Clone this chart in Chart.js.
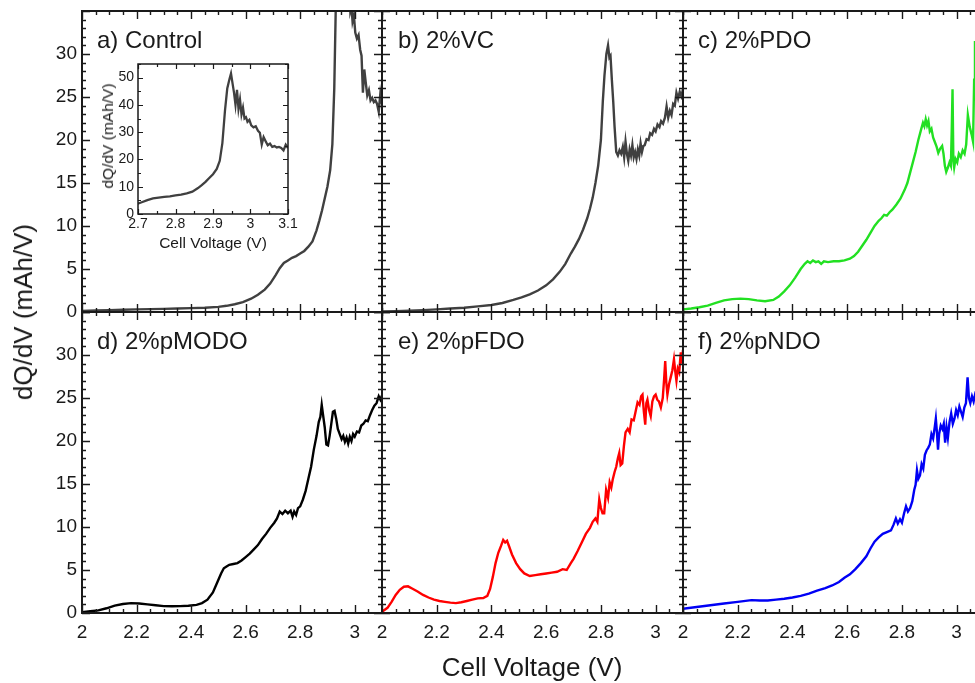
<!DOCTYPE html>
<html>
<head>
<meta charset="utf-8">
<script src="https://cdn.jsdelivr.net/npm/chart.js@4.4.1/dist/chart.umd.min.js"></script>
<style>
  html, body { margin: 0; padding: 0; background: #fff; width: 975px; height: 683px; overflow: hidden; }
  #wrap { position: relative; width: 975px; height: 683px; overflow: hidden; }
  #wrap canvas { position: absolute; left: 0; top: 0; }
  .lbl { position: absolute; white-space: nowrap; font-family: "Liberation Sans", Arial, sans-serif; color: #1a1a1a; }
  .panel { font-size: 24px; line-height: 24px; }
  .axis { font-size: 26px; line-height: 26px; }
  .inax { font-size: 15.5px; line-height: 16px; }
  .rot { transform: translate(-50%, -50%) rotate(-90deg); }
</style>
</head>
<body>
<div id="wrap">
  <canvas id="cA" width="1010" height="683"></canvas>
  <canvas id="cB" width="1010" height="683"></canvas>
  <canvas id="cC" width="1010" height="683"></canvas>
  <canvas id="cD" width="1010" height="683"></canvas>
  <canvas id="cE" width="1010" height="683"></canvas>
  <canvas id="cF" width="1010" height="683"></canvas>
  <canvas id="cInset" width="1010" height="683"></canvas>

  <div class="lbl panel" style="left:97px;top:28px">a) Control</div>
  <div class="lbl panel" style="left:398px;top:28px">b) 2%VC</div>
  <div class="lbl panel" style="left:698px;top:28px">c) 2%PDO</div>
  <div class="lbl panel" style="left:97px;top:329px">d) 2%pMODO</div>
  <div class="lbl panel" style="left:398px;top:329px">e) 2%pFDO</div>
  <div class="lbl panel" style="left:698px;top:329px">f) 2%pNDO</div>

  <div class="lbl axis" style="left:532px;top:654px;transform:translateX(-50%)">Cell Voltage (V)</div>
  <div class="lbl axis rot" style="left:23px;top:312px">dQ/dV (mAh/V)</div>

  <div class="lbl inax" style="left:213px;top:235px;transform:translateX(-50%)">Cell Voltage (V)</div>
  <div class="lbl inax rot" style="left:108px;top:136px">dQ/dV (mAh/V)</div>
</div>

<script>
// ---- tick labels ----
const voltTicks = [2, 2.2, 2.4, 2.6, 2.8, 3];
const dqdvTicks = [0, 5, 10, 15, 20, 25, 30];
const insetVoltTicks = [2.7, 2.8, 2.9, 3, 3.1];
const insetDqdvTicks = [0, 10, 20, 30, 40, 50];

// ---- a) Control ----
const controlV = [2.00, 2.05, 2.10, 2.15, 2.20, 2.25, 2.30, 2.35, 2.40, 2.45, 2.50, 2.53, 2.56, 2.59, 2.62, 2.645, 2.67, 2.69, 2.71, 2.725, 2.74, 2.755, 2.77, 2.785, 2.80, 2.815, 2.83, 2.845, 2.86, 2.87, 2.88, 2.89, 2.90, 2.91, 2.918, 2.925, 2.932, 2.938, 2.944, 2.948, 2.952, 2.956, 2.96, 2.964, 2.968, 2.972, 2.976, 2.98, 2.984, 2.988, 2.992, 2.997, 3.002, 3.008, 3.014, 3.02, 3.025, 3.03, 3.035, 3.04, 3.046, 3.052, 3.058, 3.064, 3.07, 3.076, 3.082, 3.088, 3.094, 3.1];
const controlQ = [0.12, 0.18, 0.22, 0.26, 0.3, 0.33, 0.36, 0.4, 0.45, 0.5, 0.6, 0.72, 0.9, 1.15, 1.55, 2.0, 2.6, 3.3, 4.3, 5.1, 5.7, 6.0, 6.3, 6.5, 6.8, 7.1, 7.6, 8.2, 9.5, 10.6, 11.8, 13.2, 14.6, 16.5, 19.5, 26, 38, 46, 49.5, 51.5, 48, 44.5, 40, 45.5, 38.5, 42, 36.5, 39, 35, 35.5, 33.8, 34.5, 32.5, 31.8, 32.2, 30.5, 29.8, 25.5, 28.2, 26.8, 25.2, 25.8, 24.6, 24.9, 24.4, 24.6, 24.2, 23.3, 25.4, 24.2];

// ---- b) 2%VC ----
const vcV = [2.00, 2.05, 2.10, 2.15, 2.20, 2.25, 2.30, 2.35, 2.40, 2.44, 2.48, 2.51, 2.54, 2.57, 2.60, 2.625, 2.65, 2.67, 2.69, 2.705, 2.72, 2.735, 2.75, 2.76, 2.77, 2.78, 2.79, 2.80, 2.807, 2.813, 2.82, 2.826, 2.831, 2.835, 2.84, 2.845, 2.85, 2.856, 2.862, 2.868, 2.874, 2.88, 2.885, 2.89, 2.895, 2.9, 2.905, 2.91, 2.915, 2.92, 2.925, 2.93, 2.935, 2.94, 2.945, 2.95, 2.955, 2.96, 2.967, 2.974, 2.98, 2.987, 2.994, 3.0, 3.007, 3.014, 3.02, 3.027, 3.034, 3.04, 3.046, 3.052, 3.058, 3.064, 3.07, 3.076, 3.082, 3.088, 3.094, 3.1];
const vcQ = [0.05, 0.1, 0.15, 0.22, 0.3, 0.4, 0.5, 0.65, 0.82, 1.05, 1.4, 1.7, 2.05, 2.5, 3.1, 3.8, 4.7, 5.6, 6.8, 7.6, 8.5, 9.6, 10.9, 12.0, 13.3, 15.0, 17.0, 20.0, 24.5, 27.5, 30.0, 31.0, 29.6, 29.8, 27.0, 24.5, 21.5, 18.6, 18.2, 18.8, 18.4, 19.2, 18.0, 19.8, 18.4, 17.6, 18.9, 18.2, 19.4, 18.0, 18.6, 17.8, 18.9, 18.2, 19.6, 18.6, 19.3, 19.4, 20.1, 20.0, 20.8, 20.6, 21.3, 21.0, 21.8, 21.5, 22.2, 21.9, 22.6, 23.9, 22.6, 23.4, 22.9, 24.2, 24.0, 25.5, 24.8, 25.6, 25.1, 25.9];

// ---- c) 2%PDO ----
const pdoV = [2.00, 2.03, 2.06, 2.09, 2.12, 2.15, 2.18, 2.21, 2.24, 2.27, 2.30, 2.33, 2.35, 2.37, 2.39, 2.41, 2.43, 2.445, 2.455, 2.465, 2.475, 2.485, 2.495, 2.505, 2.515, 2.53, 2.55, 2.57, 2.59, 2.61, 2.625, 2.64, 2.655, 2.67, 2.685, 2.70, 2.715, 2.725, 2.735, 2.745, 2.755, 2.765, 2.78, 2.795, 2.81, 2.82, 2.83, 2.84, 2.85, 2.86, 2.87, 2.877, 2.882, 2.887, 2.892, 2.897, 2.902, 2.908, 2.914, 2.92, 2.927, 2.933, 2.94, 2.947, 2.952, 2.957, 2.962, 2.968, 2.974, 2.979, 2.982, 2.985, 2.988, 2.991, 2.996, 3.002, 3.008, 3.015, 3.022, 3.029, 3.035, 3.041, 3.048, 3.055, 3.06, 3.064, 3.067, 3.072, 3.08, 3.09, 3.1];
const pdoQ = [0.3, 0.4, 0.55, 0.75, 1.05, 1.35, 1.5, 1.55, 1.5, 1.35, 1.25, 1.4, 1.8, 2.4, 3.1, 4.0, 5.0, 5.6, 5.9, 5.7, 6.0, 5.8, 5.9, 5.6, 5.9, 5.8, 5.9, 5.9, 6.0, 6.2, 6.5, 7.0, 7.7, 8.4, 9.2, 10.0, 10.6, 10.9, 11.3, 11.2, 11.6, 11.9, 12.5, 13.2, 14.2, 15.0, 16.2, 17.4, 18.6, 20.0, 21.2, 22.0, 21.6, 22.4, 21.7, 22.2, 21.0, 21.3, 20.3, 19.8, 19.2, 18.5, 19.0, 19.3, 18.4, 17.0, 16.3, 16.8, 17.4, 17.0, 21.0, 25.9, 17.6, 16.8, 17.8, 17.4, 18.4, 18.0, 18.8, 18.4, 19.5, 22.9, 21.5, 20.6, 19.8, 27.0, 31.5, 26.0, 24.0, 24.6, 25.5];

// ---- d) 2%pMODO ----
const pmodoV = [2.00, 2.03, 2.06, 2.09, 2.12, 2.15, 2.18, 2.21, 2.24, 2.27, 2.30, 2.33, 2.36, 2.39, 2.42, 2.44, 2.46, 2.48, 2.495, 2.51, 2.52, 2.53, 2.54, 2.555, 2.57, 2.585, 2.60, 2.615, 2.63, 2.645, 2.66, 2.675, 2.69, 2.705, 2.715, 2.725, 2.735, 2.745, 2.755, 2.765, 2.772, 2.778, 2.785, 2.792, 2.80, 2.81, 2.82, 2.83, 2.84, 2.85, 2.86, 2.868, 2.874, 2.879, 2.884, 2.89, 2.896, 2.902, 2.908, 2.914, 2.92, 2.926, 2.932, 2.938, 2.945, 2.952, 2.958, 2.964, 2.97, 2.976, 2.982, 2.988, 2.994, 3.0, 3.008, 3.016, 3.024, 3.032, 3.04, 3.048, 3.056, 3.064, 3.072, 3.08, 3.088, 3.094, 3.1];
const pmodoQ = [0.1, 0.2, 0.3, 0.55, 0.85, 1.05, 1.15, 1.1, 1.0, 0.9, 0.8, 0.78, 0.8, 0.85, 0.95, 1.15, 1.55, 2.4, 3.5, 4.6, 5.2, 5.4, 5.6, 5.7, 5.8, 6.1, 6.5, 6.9, 7.4, 7.9, 8.6, 9.2, 9.9, 10.5, 11.0, 11.8, 11.5, 11.9, 11.6, 11.9, 11.2, 11.8, 11.4, 12.2, 12.4, 13.2, 14.2, 15.6, 17.0, 19.0, 20.6, 22.2, 22.8, 24.2, 23.0, 21.6, 19.6, 19.5, 20.6, 22.0, 23.4, 23.5, 22.6, 21.4, 20.8, 20.2, 20.6, 19.9, 20.4, 19.7, 20.5, 20.0, 20.8, 20.5, 21.1, 21.0, 21.8, 22.0, 22.4, 22.3, 23.0, 23.6, 24.1, 24.4, 25.2, 24.8, 25.3];

// ---- e) 2%pFDO ----
const pfdoV = [2.00, 2.02, 2.035, 2.05, 2.065, 2.08, 2.095, 2.11, 2.13, 2.15, 2.17, 2.19, 2.21, 2.23, 2.25, 2.27, 2.29, 2.31, 2.33, 2.35, 2.37, 2.385, 2.395, 2.405, 2.415, 2.425, 2.435, 2.443, 2.45, 2.457, 2.465, 2.475, 2.49, 2.505, 2.52, 2.54, 2.56, 2.58, 2.60, 2.62, 2.64, 2.66, 2.675, 2.69, 2.70, 2.715, 2.73, 2.745, 2.76, 2.77, 2.78, 2.787, 2.794, 2.80, 2.806, 2.812, 2.819, 2.826, 2.832, 2.838, 2.843, 2.85, 2.856, 2.862, 2.867, 2.872, 2.878, 2.884, 2.89, 2.898, 2.905, 2.912, 2.92, 2.928, 2.934, 2.941, 2.947, 2.952, 2.957, 2.962, 2.966, 2.97, 2.976, 2.982, 2.988, 2.994, 3.0, 3.006, 3.012, 3.019, 3.026, 3.031, 3.035, 3.039, 3.043, 3.049, 3.055, 3.061, 3.067, 3.072, 3.076, 3.081, 3.086, 3.092, 3.096, 3.1];
const pfdoQ = [0.15, 0.6, 1.3, 2.1, 2.7, 3.05, 3.1, 2.85, 2.5, 2.1, 1.8, 1.55, 1.4, 1.3, 1.2, 1.15, 1.25, 1.4, 1.55, 1.7, 1.75, 2.0, 2.8, 4.2, 5.8, 7.0, 7.8, 8.5, 8.2, 8.4, 7.7, 6.8, 5.8, 5.1, 4.6, 4.3, 4.4, 4.5, 4.6, 4.7, 4.8, 5.1, 5.0, 5.8, 6.3, 7.2, 8.2, 9.2, 9.9, 10.6, 11.0, 10.6, 13.2, 12.2, 11.6, 11.6, 14.3, 13.4, 15.2, 14.6, 15.5, 16.4, 17.0, 18.0, 18.6, 17.2, 17.4, 19.4, 21.0, 21.4, 21.0, 22.5, 22.4, 23.6, 24.5, 24.2, 25.2, 25.4, 23.4, 21.9, 24.4, 24.8, 23.6, 22.9, 24.6, 25.2, 25.4, 24.8, 24.6, 23.9, 25.0, 27.2, 29.3, 26.8, 25.4, 26.6, 27.4, 28.2, 29.5, 28.0, 27.0, 28.4, 28.0, 30.3, 29.0, 30.6];

// ---- f) 2%pNDO ----
const pndoV = [2.00, 2.05, 2.10, 2.15, 2.20, 2.25, 2.28, 2.31, 2.34, 2.37, 2.40, 2.43, 2.46, 2.49, 2.52, 2.545, 2.57, 2.59, 2.61, 2.63, 2.65, 2.67, 2.685, 2.70, 2.715, 2.73, 2.745, 2.76, 2.77, 2.778, 2.785, 2.793, 2.80, 2.808, 2.815, 2.822, 2.83, 2.838, 2.845, 2.85, 2.855, 2.86, 2.866, 2.872, 2.878, 2.884, 2.89, 2.896, 2.902, 2.908, 2.914, 2.92, 2.924, 2.928, 2.932, 2.936, 2.942, 2.948, 2.953, 2.958, 2.963, 2.968, 2.974, 2.98, 2.986, 2.992, 2.998, 3.004, 3.01, 3.016, 3.022, 3.028, 3.034, 3.04, 3.045, 3.05, 3.056, 3.062, 3.068, 3.08, 3.1];
const pndoQ = [0.5, 0.7, 0.9, 1.1, 1.3, 1.5, 1.45, 1.45, 1.55, 1.65, 1.8, 2.0, 2.25, 2.6, 2.9, 3.2, 3.6, 4.1, 4.5, 5.1, 5.8, 6.6, 7.5, 8.3, 8.8, 9.2, 9.4, 9.6, 10.3, 11.0, 10.4, 10.9, 10.5, 11.6, 12.4, 11.8, 12.2, 13.0, 14.3, 14.9, 16.6, 15.6, 16.0, 17.3, 16.8, 18.4, 18.9, 19.2, 19.6, 20.8, 20.3, 21.6, 22.6, 21.0, 19.0, 20.8, 21.8, 21.4, 22.0, 19.8, 21.6, 20.4, 22.2, 23.2, 22.0, 22.6, 23.6, 23.0, 24.0, 23.4, 22.8, 23.9, 24.4, 27.4, 25.0, 24.4, 25.2, 24.6, 25.5, 25.0, 25.6];

// ---- layout ----
const FONT = '"Liberation Sans", Arial, sans-serif';
const CANVAS_W = 1010, CANVAS_H = 683;
const Y_AXIS_W = 60, X_AXIS_H = 38;
const colEdges = [82, 382, 683, 984];
const rowEdges = [11, 312, 613];

Chart.defaults.font.family = FONT;

const fmt = v => String(Math.round(v * 100) / 100);
const pairs = (xs, ys) => xs.map((x, i) => ({ x: x, y: ys[i] }));

// Box frame with inward major/minor ticks on all four sides
const frameTicks = {
  id: 'frameTicks',
  afterDraw(chart, args, o) {
    const { ctx, chartArea: a } = chart;
    const xs = chart.scales.x, ys = chart.scales.y;
    ctx.save();
    ctx.strokeStyle = o.color;
    ctx.lineWidth = o.tickWidth;
    ctx.beginPath();
    const nx = Math.round((xs.max - xs.min) / o.xMinor);
    for (let i = 0; i <= nx; i++) {
      const px = Math.round(xs.getPixelForValue(xs.min + i * o.xMinor)) + 0.5;
      const len = (i % o.xRatio === 0) ? o.major : o.minor;
      ctx.moveTo(px, a.bottom); ctx.lineTo(px, a.bottom - len);
      ctx.moveTo(px, a.top); ctx.lineTo(px, a.top + len);
    }
    const ny = Math.round((ys.max - ys.min) / o.yMinor);
    for (let i = 0; i <= ny; i++) {
      const py = Math.round(ys.getPixelForValue(ys.min + i * o.yMinor)) + 0.5;
      const len = (i % o.yRatio === 0) ? o.major : o.minor;
      ctx.moveTo(a.left, py); ctx.lineTo(a.left + len, py);
      ctx.moveTo(a.right, py); ctx.lineTo(a.right - len, py);
    }
    ctx.stroke();
    ctx.lineWidth = o.frameWidth;
    ctx.strokeRect(a.left, a.top, a.right - a.left, a.bottom - a.top);
    ctx.restore();
  }
};

function makeChart(id, data, color, box, cfg) {
  const tickFont = { family: FONT, size: cfg.fontSize };
  return new Chart(document.getElementById(id), {
    type: 'line',
    data: {
      datasets: [{
        data: data,
        borderColor: color,
        borderWidth: cfg.lineWidth,
        pointRadius: 0,
        tension: 0,
        fill: false,
        clip: 0
      }]
    },
    options: {
      responsive: false,
      animation: false,
      events: [],
      parsing: false,
      layout: {
        padding: {
          left: box.left - cfg.yAxisW,
          top: box.top,
          right: CANVAS_W - box.right,
          bottom: CANVAS_H - box.bottom - cfg.xAxisH
        }
      },
      plugins: {
        legend: { display: false },
        tooltip: { enabled: false },
        frameTicks: {
          color: '#1a1a1a',
          tickWidth: cfg.tickWidth,
          frameWidth: cfg.frameWidth,
          major: cfg.major, minor: cfg.minor,
          xMinor: cfg.xMinor, xRatio: cfg.xRatio,
          yMinor: cfg.yMinor, yRatio: cfg.yRatio
        }
      },
      scales: {
        x: {
          type: 'linear',
          min: cfg.xMin, max: cfg.xMax,
          afterBuildTicks: s => { s.ticks = cfg.xTicks.map(v => ({ value: v })); },
          afterFit: s => { s.height = cfg.xAxisH; s.paddingLeft = 0; s.paddingRight = 0; },
          grid: { display: false, drawTicks: false },
          border: { display: false },
          ticks: {
            display: box.showX, autoSkip: false, maxRotation: 0,
            padding: cfg.xPad, color: '#1a1a1a', font: tickFont, callback: fmt
          }
        },
        y: {
          type: 'linear',
          min: cfg.yMin, max: cfg.yMax,
          afterBuildTicks: s => { s.ticks = cfg.yTicks.map(v => ({ value: v })); },
          afterFit: s => { s.width = cfg.yAxisW; s.paddingTop = 0; s.paddingBottom = 0; },
          grid: { display: false, drawTicks: false },
          border: { display: false },
          ticks: {
            display: box.showY, autoSkip: false,
            padding: cfg.yPad, color: '#1a1a1a', font: tickFont, callback: fmt
          }
        }
      }
    },
    plugins: [frameTicks]
  });
}

const mainCfg = {
  xMin: 2, xMax: 3.1, yMin: 0, yMax: 35,
  xTicks: voltTicks, yTicks: dqdvTicks,
  xMinor: 0.05, xRatio: 4, yMinor: 1, yRatio: 5,
  fontSize: 19, lineWidth: 2.4, tickWidth: 1.4, frameWidth: 2,
  major: 8, minor: 4, xPad: 8, yPad: 5,
  yAxisW: Y_AXIS_W, xAxisH: X_AXIS_H
};

function panelBox(col, row) {
  return {
    left: colEdges[col], right: colEdges[col + 1],
    top: rowEdges[row], bottom: rowEdges[row + 1],
    showX: row === 1, showY: col === 0
  };
}

makeChart('cA', pairs(controlV, controlQ), '#404040', panelBox(0, 0), mainCfg);
makeChart('cB', pairs(vcV, vcQ), '#404040', panelBox(1, 0), mainCfg);
makeChart('cC', pairs(pdoV, pdoQ), '#22e022', panelBox(2, 0), mainCfg);
makeChart('cD', pairs(pmodoV, pmodoQ), '#000000', panelBox(0, 1), mainCfg);
makeChart('cE', pairs(pfdoV, pfdoQ), '#ff0000', panelBox(1, 1), mainCfg);
makeChart('cF', pairs(pndoV, pndoQ), '#0000f5', panelBox(2, 1), mainCfg);

// Inset: control cell around the main peak
makeChart('cInset', pairs(controlV, controlQ), '#404040',
  { left: 138, right: 288, top: 64, bottom: 214, showX: true, showY: true },
  {
    xMin: 2.7, xMax: 3.1, yMin: 0, yMax: 55,
    xTicks: insetVoltTicks, yTicks: insetDqdvTicks,
    xMinor: 0.05, xRatio: 2, yMinor: 5, yRatio: 2,
    fontSize: 14, lineWidth: 2.3, tickWidth: 1.2, frameWidth: 1.5,
    major: 5, minor: 3, xPad: 2, yPad: 4,
    yAxisW: 40, xAxisH: 22
  });
</script>
</body>
</html>
